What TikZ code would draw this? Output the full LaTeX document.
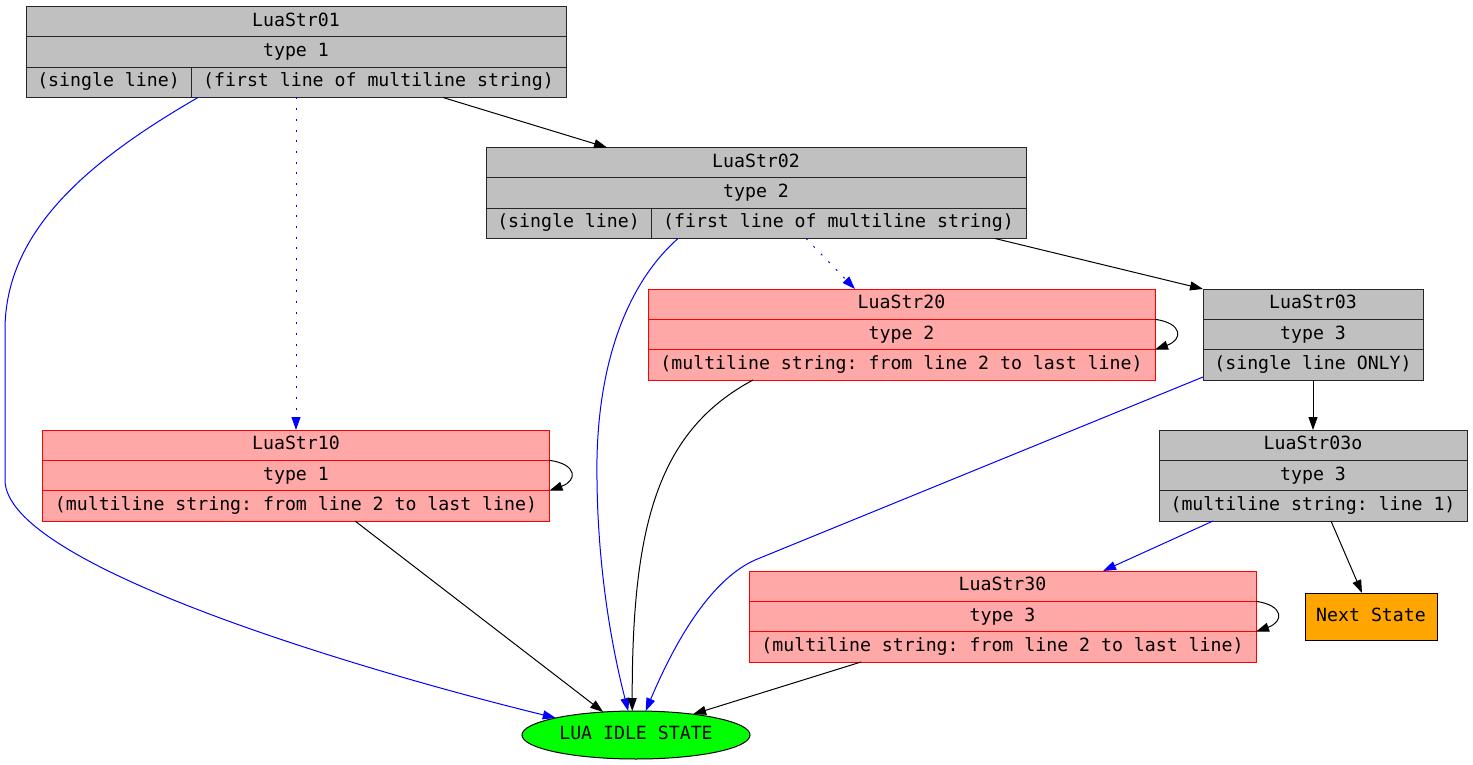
\documentclass[tikz,border=0pt]{standalone}
\usepackage{fontspec}
\setmonofont{DejaVu Sans Mono}
\usepackage{xcolor}
\usepackage{tikz}
\usetikzlibrary{arrows.meta,shapes.geometric,calc}

\definecolor{recgray}{HTML}{C0C0C0}
\definecolor{recpink}{HTML}{FFA8A8}
\definecolor{idlegreen}{HTML}{00FF00}
\definecolor{nextorange}{HTML}{FFA500}

\begin{document}
\begin{tikzpicture}[x=1pt, y=-1pt, >={Triangle[length=13pt,width=9pt]}, line width=1pt,
    row/.style={rectangle, inner sep=0pt, outer sep=0pt, minimum height=30.4pt, text height=13pt, text depth=4pt, font=\ttfamily\fontsize{18.2}{20}\selectfont},
    grayrow/.style={row, draw=black!85, fill=recgray},
    redrow/.style={row, draw=red, fill=recpink},
    blueedge/.style={->, draw=blue},
    dotedge/.style={->, draw=blue, dash pattern=on 2pt off 8.7pt}]
    \useasboundingbox (0,0) rectangle (1473,765);

    \node [grayrow, minimum width=540pt] (s01a) at (296,21.7) {LuaStr01};
    \node [grayrow, minimum width=540pt] (s01b) at (296,52) {type 1};
    \node [grayrow, minimum width=165pt] (s01l) at (108.5,82.3) {(single line)};
    \node [grayrow, minimum width=375pt] (s01r) at (378.5,82.3) {(first line of multiline string)};

    \node [grayrow, minimum width=540pt] (s02a) at (756,162.7) {LuaStr02};
    \node [grayrow, minimum width=540pt] (s02b) at (756,193) {type 2};
    \node [grayrow, minimum width=165pt] (s02l) at (568.5,223.3) {(single line)};
    \node [grayrow, minimum width=375pt] (s02r) at (838.5,223.3) {(first line of multiline string)};

    \node [redrow, minimum width=507pt] (s20a) at (901.5,304.2) {LuaStr20};
    \node [redrow, minimum width=507pt] (s20b) at (901.5,334.5) {type 2};
    \node [redrow, minimum width=507pt] (s20c) at (901.5,364.8) {(multiline string: from line 2 to last line)};

    \node [grayrow, minimum width=220pt] (s03a) at (1313,304.2) {LuaStr03};
    \node [grayrow, minimum width=220pt] (s03b) at (1313,334.5) {type 3};
    \node [grayrow, minimum width=220pt] (s03c) at (1313,364.8) {(single line ONLY)};

    \node [redrow, minimum width=507pt] (s10a) at (296,445.2) {LuaStr10};
    \node [redrow, minimum width=507pt] (s10b) at (296,475.5) {type 1};
    \node [redrow, minimum width=507pt] (s10c) at (296,505.8) {(multiline string: from line 2 to last line)};

    \node [grayrow, minimum width=308pt] (s03oa) at (1313,445.2) {LuaStr03o};
    \node [grayrow, minimum width=308pt] (s03ob) at (1313,475.5) {type 3};
    \node [grayrow, minimum width=308pt] (s03oc) at (1313,505.8) {(multiline string: line 1)};

    \node [redrow, minimum width=507pt] (s30a) at (1002.5,586.2) {LuaStr30};
    \node [redrow, minimum width=507pt] (s30b) at (1002.5,616.5) {type 3};
    \node [redrow, minimum width=507pt] (s30c) at (1002.5,646.8) {(multiline string: from line 2 to last line)};

    \node [row, draw=black, fill=nextorange, minimum width=132pt, minimum height=47pt] (next) at (1371,616.5) {Next State};
    \node [row, ellipse, draw=black, fill=idlegreen, minimum width=228pt, minimum height=48pt] (idle) at (636,735) {LUA IDLE STATE};

    \draw [->] ([xshift=64.5pt]s01r.south) -- ([xshift=-149pt]s02a.north);
    \draw [dotedge] ([xshift=-82.5pt]s01r.south) -- (s10a.north);
    \draw [blueedge] ([xshift=-180.5pt]s01r.south) .. controls (90,160) and (5,230) .. (5,330) -- (5,480) .. controls (5,570) and (400,680) .. (idle.168);

    \draw [dotedge] ([xshift=-32.5pt]s02r.south) -- ([xshift=-46.5pt]s20a.north);
    \draw [->] ([xshift=156.5pt]s02r.south) -- (s03a.north west);
    \draw [blueedge] ([xshift=-160.5pt]s02r.south) .. controls (620,290) and (595,380) .. (597,480) .. controls (598,580) and (615,660) .. (idle.108);

    \draw [->] (s20b.north east) .. controls +(28,4) and +(28,-10) .. (s20c.north east);
    \draw [->] ([xshift=-148.5pt]s20c.south) .. controls (660,430) and (632,520) .. (idle.99);

    \draw [->] (s03c.south) -- (s03oa.north);
    \draw [blueedge] ([yshift=3pt]s03c.south west) -- (755,560) .. controls (715,578) and (680,630) .. (idle.68);

    \draw [->] (s10b.north east) .. controls +(28,4) and +(28,-10) .. (s10c.north east);
    \draw [->] ([xshift=59pt]s10c.south) -- (idle.145);

    \draw [blueedge] ([xshift=-100pt]s03oc.south) -- ([xshift=100.5pt]s30a.north);
    \draw [->] ([xshift=18pt]s03oc.south) -- ([xshift=-9pt]next.north);

    \draw [->] (s30b.north east) .. controls +(28,4) and +(28,-10) .. (s30c.north east);
    \draw [->] ([xshift=-141.5pt]s30c.south) -- (idle.20);
\end{tikzpicture}
\end{document}
